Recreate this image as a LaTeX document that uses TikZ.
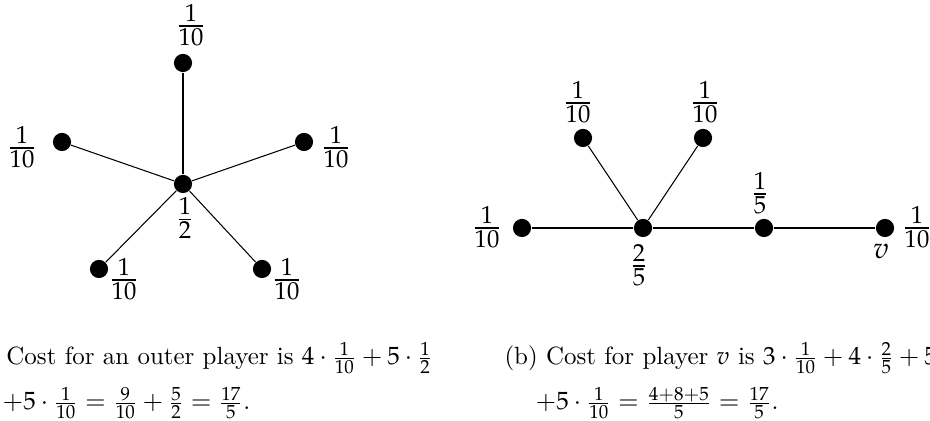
\documentclass[tikz,border=0pt]{standalone}
\usepackage{amsmath}
\usepackage{mathpazo}

\begin{document}
\begin{tikzpicture}[
  x=0.0141cm,
  y=-0.0141cm,
  player/.style={circle, fill=black, inner sep=0pt, minimum size=7.3pt},
  share/.style={inner sep=0pt, font=\fontsize{13}{15}\selectfont},
  link/.style={draw=black, line width=0.42pt},
  captext/.style={anchor=base west, inner sep=0pt}
]
  \useasboundingbox (0,0) rectangle (930,421);
  \clip (0,0) rectangle (930,421);

  % star
  \node[player] (hub) at (183,184) {};
  \node[player] (top) at (183,63) {};
  \node[player] (west) at (62,142) {};
  \node[player] (east) at (304,142) {};
  \node[player] (sw) at (99,269) {};
  \node[player] (se) at (262,269) {};
  \foreach \p in {top,west,east,sw,se} {
    \draw[link] (hub) -- (\p);
  }
  \node[share] (hublbl) at (185,218) {$\frac{1}{2}$};
  \node[share] (toplbl) at (191,25) {$\frac{1}{10}$};
  \node[share] (westlbl) at (22,147) {$\frac{1}{10}$};
  \node[share] (eastlbl) at (336,147) {$\frac{1}{10}$};
  \node[share] (swlbl) at (124,279) {$\frac{1}{10}$};
  \node[share] (selbl) at (287,279) {$\frac{1}{10}$};

  % tree with player v
  \node[player] (root) at (643,228) {};
  \node[player] (leaf) at (522,228) {};
  \node[player] (upl) at (583,138) {};
  \node[player] (upr) at (703,138) {};
  \node[player] (mid) at (764,228) {};
  \node[player] (v) at (885,228) {};
  \foreach \p in {leaf,upl,upr,mid} {
    \draw[link] (root) -- (\p);
  }
  \draw[link] (mid) -- (v);
  \node[share] (rootlbl) at (639,265) {$\frac{2}{5}$};
  \node[share] (leaflbl) at (487,227) {$\frac{1}{10}$};
  \node[share] (upllbl) at (578,102) {$\frac{1}{10}$};
  \node[share] (uprlbl) at (705,102) {$\frac{1}{10}$};
  \node[share] (midlbl) at (760,193) {$\frac{1}{5}$};
  \node[inner sep=0pt, font=\fontsize{12}{14}\selectfont] (vname) at (881,251) {$v$};
  \node[share] (vlbl) at (917,227) {$\frac{1}{10}$};

  % captions
  \node[captext] (capa1) at (6,365) {Cost for an outer player is $4\cdot\frac{1}{10}+5\cdot\frac{1}{2}$};
  \node[captext] (capa2) at (2,410) {$+5\cdot\frac{1}{10}=\frac{9}{10}+\frac{5}{2}=\frac{17}{5}$.};
  \node[captext] (capb1) at (504,365) {(b) Cost for player $v$ is $3\cdot\frac{1}{10}+4\cdot\frac{2}{5}+5$};
  \node[captext] (capb2) at (535,410) {$+5\cdot\frac{1}{10}=\frac{4+8+5}{5}=\frac{17}{5}$.};
\end{tikzpicture}
\end{document}
